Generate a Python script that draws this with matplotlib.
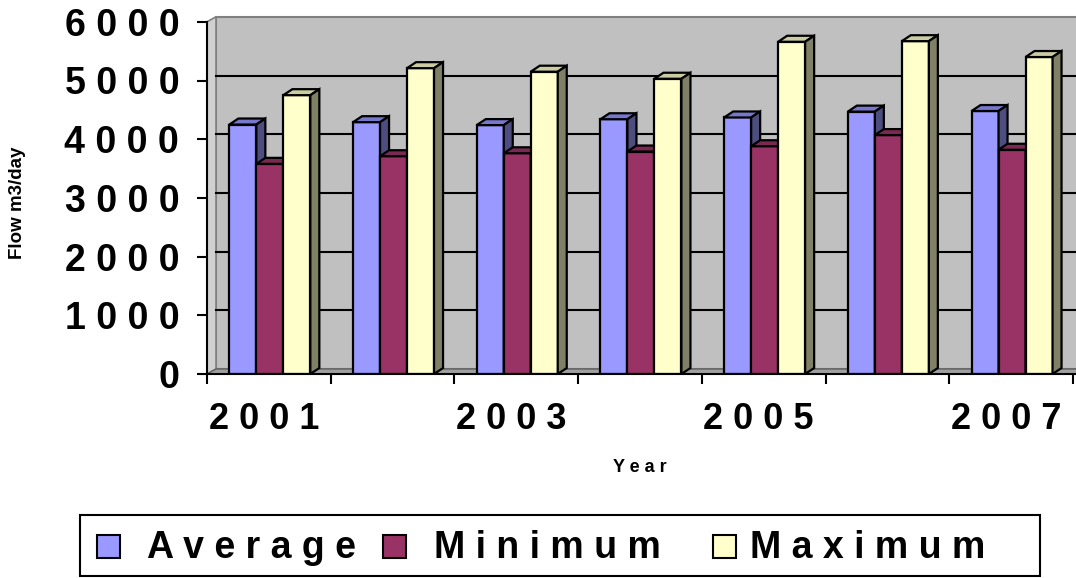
import matplotlib
matplotlib.use('Agg')
import matplotlib.pyplot as plt
from matplotlib.patches import Polygon, Rectangle

years = ['2001', '2002', '2003', '2004', '2005', '2006', '2007']
average = [4250, 4290, 4240, 4340, 4370, 4470, 4480]
minimum = [3580, 3710, 3760, 3790, 3880, 4070, 3820]
maximum = [4750, 5210, 5150, 5030, 5660, 5670, 5400]
series_names = ['Average', 'Minimum', 'Maximum']
y_ticks = [0, 1000, 2000, 3000, 4000, 5000, 6000]
shown_years = ['2001', '2003', '2005', '2007']

front_cols = ['#9999ff', '#993366', '#ffffcc']
top_cols = ['#7777cc', '#7a2952', '#cccca3']
side_cols = ['#4d4d80', '#4d1a33', '#808066']

plt.rcParams['font.family'] = ['Liberation Sans', 'DejaVu Sans']

W, H = 1076, 578
fig = plt.figure(figsize=(W / 100, H / 100), dpi=100)

# plot area, measured in pixels
x0, y0 = 207, 374
cat_px = 123.7
val_px = 58.7 / 1000
ax = fig.add_axes([x0 / W, 1 - y0 / H, (W - x0) / W, y0 / H])
xmax = (W - x0) / cat_px
ax.set_xlim(0, xmax)
ax.set_ylim(0, y0 / val_px)


def px_x(p):
    return p / cat_px


def px_y(p):
    return p / val_px


# walls and floor
wdx, wdy = px_x(9), px_y(5)
top_v = y_ticks[-1]
ax.add_patch(Rectangle((wdx, wdy), xmax, top_v, facecolor='#c0c0c0',
                       edgecolor='#808080', lw=1.5, zorder=0))
ax.add_patch(Polygon([(0, 0), (wdx, wdy), (wdx, top_v + wdy), (0, top_v)],
                     closed=True, facecolor='#d0d0d0', edgecolor='#808080',
                     lw=1.2, zorder=0.5))
ax.add_patch(Polygon([(0, 0), (wdx, wdy), (xmax + 1, wdy), (xmax + 1, 0)],
                     closed=True, facecolor='#a0a0a0', edgecolor='#606060',
                     lw=1.0, zorder=0.5))
for v in y_ticks[1:-1]:
    ax.plot([wdx, xmax], [v + wdy, v + wdy], color='black', lw=1.5, zorder=1)

# 3D-looking bars
bw = px_x(27)
bdx, bdy = px_x(9), px_y(6)
z = 2
for i in range(len(years)):
    for s, vals in enumerate([average, minimum, maximum]):
        v = vals[i]
        left = i + 0.5 + px_x(1) + (s - 1.5) * bw
        right = left + bw
        ax.bar(left, v, width=bw, align='edge', color=front_cols[s],
               edgecolor='black', lw=1.6, zorder=z)
        ax.add_patch(Polygon([(left, v), (left + bdx, v + bdy),
                              (right + bdx, v + bdy), (right, v)],
                             closed=True, facecolor=top_cols[s],
                             edgecolor='black', lw=1.6, zorder=z + 0.1))
        ax.add_patch(Polygon([(right, 0), (right, v), (right + bdx, v + bdy),
                              (right + bdx, bdy)],
                             closed=True, facecolor=side_cols[s],
                             edgecolor='black', lw=1.6, zorder=z + 0.1))
        z += 1

# axes
for sp in ['top', 'right']:
    ax.spines[sp].set_visible(False)
ax.spines['left'].set_bounds(0, top_v)
ax.spines['left'].set_linewidth(1.5)
ax.spines['bottom'].set_linewidth(1.5)
ax.spines['left'].set_zorder(200)
ax.spines['bottom'].set_zorder(200)

ax.set_yticks(y_ticks, labels=[' '.join(str(v)) for v in y_ticks])
ax.tick_params(axis='y', length=7, width=1.5, pad=13, labelsize=27)
for t in ax.get_yticklabels():
    t.set_fontweight('bold')

ax.set_xticks(range(len(years) + 1), labels=[''] * (len(years) + 1))
ax.tick_params(axis='x', which='major', length=7, width=1.5, direction='out')
ax.set_xticks([years.index(y) + 0.5 for y in shown_years],
              labels=[' '.join(y) + ' ' for y in shown_years], minor=True)
ax.tick_params(axis='x', which='minor', length=0, pad=20, labelsize=26)
for t in ax.get_xticklabels(minor=True):
    t.set_fontweight('bold')

fig.text(18 / W, 1 - 203 / H, 'Flow m3/day', rotation=90, fontsize=13.5,
         fontweight='bold', ha='center', va='center')
fig.text(640 / W, 1 - 468 / H, ' '.join('Year'), fontsize=13,
         fontweight='bold', ha='center', va='center')

# legend drawn in pixel space
lax = fig.add_axes([0, 0, 1, 1])
lax.set_xlim(0, W)
lax.set_ylim(H, 0)
lax.axis('off')
lax.add_patch(Rectangle((80, 515), 960, 61, facecolor='white',
                        edgecolor='black', lw=1.5))
mark_x = [97, 383, 713]
text_x = [147, 434, 750]
for s, name in enumerate(series_names):
    lax.add_patch(Rectangle((mark_x[s], 535), 23, 23, facecolor=front_cols[s],
                            edgecolor='black', lw=1.5))
    lax.text(text_x[s], 558, ' '.join(name), fontsize=27, fontweight='bold',
             ha='left', va='baseline')

fig.savefig('out.png', dpi=100)
